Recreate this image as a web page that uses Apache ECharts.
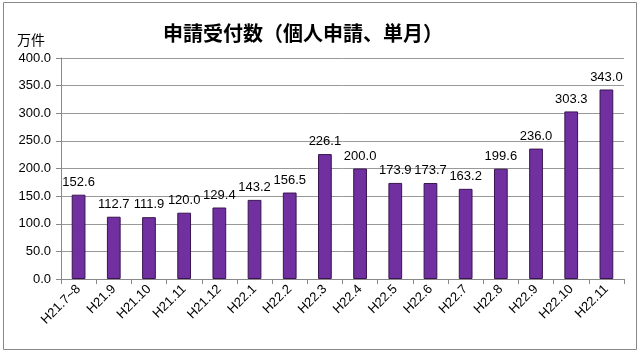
<!DOCTYPE html>
<html><head><meta charset="utf-8">
<script src="https://cdn.jsdelivr.net/npm/echarts@6/dist/echarts.min.js"></script>
<style>html,body{margin:0;padding:0;background:#fff}#c{width:640px;height:353px}</style>
</head><body><div id="c"></div>
<script>
const categories = ["H21.7~8","H21.9","H21.10","H21.11","H21.12","H22.1","H22.2","H22.3","H22.4","H22.5","H22.6","H22.7","H22.8","H22.9","H22.10","H22.11"];
const values = [152.6,112.7,111.9,120.0,129.4,143.2,156.5,226.1,200.0,173.9,173.7,163.2,199.6,236.0,303.3,343.0];
const yTicks = {min:0, max:400, interval:50};
const chart = echarts.init(document.getElementById('c'), null, {renderer:'canvas'});
const font = '"Liberation Sans", Arial, sans-serif';
chart.setOption({
  animation:false,
  graphic:[{type:'rect',shape:{x:3.5,y:2.5,width:633,height:347},style:{fill:'none',stroke:'#888',lineWidth:1}},
    {type:'text',left:17,top:33,style:{text:'万件',font:'14px "Noto Sans CJK JP", sans-serif',fill:'#000'}}],
  title:{text:'申請受付数（個人申請、単月）',left:158,top:18,
    textStyle:{fontFamily:'"Noto Sans CJK JP", sans-serif',fontSize:20,fontWeight:'bold',color:'#000'}},
  grid:{left:61,right:16,top:58,bottom:74,containLabel:false},
  xAxis:{type:'category',data:categories,
    axisLine:{lineStyle:{color:'#888'}},axisTick:{show:true,lineStyle:{color:'#888'}},
    axisLabel:{rotate:45,color:'#000',fontSize:13,fontFamily:font,margin:8,interval:0}},
  yAxis:{type:'value',min:yTicks.min,max:yTicks.max,interval:yTicks.interval,
    axisLine:{show:true,lineStyle:{color:'#888'}},axisTick:{show:true,lineStyle:{color:'#888'}},
    splitLine:{lineStyle:{color:'#999'}},
    axisLabel:{color:'#000',fontSize:13,fontFamily:font,formatter:v=>v.toFixed(1),margin:10}},
  series:[{type:'bar',data:values,barWidth:'39%',
    itemStyle:{color:'#7030A0',borderColor:'#3a1450',borderWidth:1},
    label:{show:true,position:'top',distance:6,color:'#000',fontSize:13,fontFamily:font,formatter:p=>p.value.toFixed(1)}}]
});
</script></body></html>
